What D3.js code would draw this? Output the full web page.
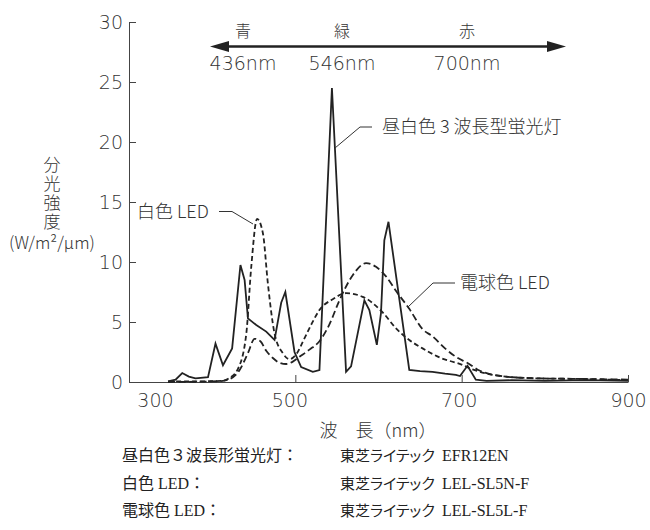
<!DOCTYPE html>
<html>
<head>
<meta charset="utf-8">
<script src="https://cdn.jsdelivr.net/npm/d3@7.9.0/dist/d3.min.js"></script>
<style>
  body { margin: 0; background: #fff; }
  svg { display: block; }
  .sans { font-family: "DejaVu Sans", "Noto Sans CJK JP", sans-serif; font-weight: 200; fill: #333; }
  .jp { font-family: "Noto Sans CJK JP", "DejaVu Sans", sans-serif; font-weight: 300; fill: #333; }
  .serif { font-family: "Liberation Serif", "Noto Sans CJK JP", serif; fill: #222; }
  .kana { font-feature-settings: "palt"; }
</style>
</head>
<body>
<svg id="chart" width="650" height="530"></svg>
<script>
// Spectra (wavelength in nm, intensity in W/m2/um)
const fluorWl  = [347, 356, 364, 372, 380, 395, 404, 413, 424, 434, 439, 443, 453, 465, 475, 483, 488, 499, 507, 521, 529, 544, 561, 567, 583, 589, 598, 603, 607, 612, 637, 650, 665, 680, 693, 698, 707, 717, 730, 760, 800, 850, 900];
const fluorVal = [0.05, 0.2, 0.75, 0.45, 0.3, 0.4, 3.2, 1.4, 2.8, 9.75, 8.5, 5.3, 4.75, 4.2, 3.5, 6.6, 7.5, 2.5, 1.25, 0.85, 1.0, 24.5, 0.85, 1.3, 6.8, 6.0, 3.1, 5.75, 11.8, 13.35, 1.0, 0.9, 0.85, 0.7, 0.6, 0.5, 1.35, 0.2, 0.1, 0.15, 0.1, 0.15, 0.1];

const whiteWl  = [347, 380, 413, 420, 431, 441, 447, 454, 461, 467, 475, 485, 493, 501, 510, 520, 529, 545, 561, 581, 605, 622, 637, 653, 675, 700, 713, 730, 753, 793, 850, 900];
const whiteVal = [0.05, 0.05, 0.1, 0.3, 1.1, 4.0, 9.6, 13.6, 12.4, 8.2, 4.05, 2.4, 1.9, 2.3, 3.5, 4.9, 6.0, 6.9, 7.4, 7.1, 5.8, 4.4, 3.5, 2.8, 2.0, 1.45, 1.05, 0.7, 0.45, 0.3, 0.25, 0.15];

const bulbWl  = [347, 400, 413, 425, 433, 443, 451, 458, 465, 473, 481, 489, 497, 505, 517, 529, 541, 553, 569, 585, 597, 609, 622, 637, 653, 665, 680, 693, 709, 720, 753, 793, 850, 900];
const bulbVal = [0.0, 0.05, 0.1, 0.4, 1.0, 2.4, 3.6, 3.4, 2.6, 2.0, 1.6, 1.5, 1.7, 2.1, 2.7, 3.4, 4.8, 6.8, 8.9, 9.9, 9.6, 8.8, 7.5, 6.1, 4.4, 3.8, 2.8, 2.1, 1.5, 1.0, 0.45, 0.3, 0.25, 0.2];

const xTicks = [300, 500, 700, 900];
const yTicks = [0, 5, 10, 15, 20, 25, 30];

// colour band arrow labels
const bandNames = ['青', '緑', '赤'];
const bandWl = [436, 546, 700];

const yTitle = '分光強度';
const yUnit = '(W/m²/μm)';

const footerNames = ['昼白色３波長形蛍光灯：', '白色 LED：', '電球色 LED：'];
const footerMaker = ['東芝ライテック', '東芝ライテック', '東芝ライテック'];
const footerModel = ['EFR12EN', 'LEL-SL5N-F', 'LEL-SL5L-F'];

const svg = d3.select('#chart');

const x = d3.scaleLinear().domain([300, 900]).range([129, 628]);
const y = d3.scaleLinear().domain([0, 30]).range([382, 22]);

// axes with inward ticks
const yAxis = svg.append('g')
  .attr('transform', `translate(${x(300)},0)`)
  .call(d3.axisLeft(y).tickValues(yTicks).tickSizeInner(-7).tickSizeOuter(0).tickPadding(6));

const xAxis = svg.append('g')
  .attr('transform', `translate(0,${y(0)})`)
  .call(d3.axisBottom(x).tickValues(xTicks).tickSizeInner(-7).tickSizeOuter(0).tickPadding(12));

[xAxis, yAxis].forEach(g => {
  g.selectAll('path, line').attr('stroke', '#444').attr('stroke-width', 1);
  g.selectAll('text')
    .attr('class', 'sans')
    .style('font-size', '19px')
    .attr('fill', '#333');
});
// nudge x labels like the original (first one clear of the y axis)
const xShift = { 300: 26, 500: -6, 700: -3, 900: 0 };
xAxis.selectAll('text').attr('dx', d => xShift[d]);

// spectrum lines
function series(wl, val) {
  return wl.map((w, i) => [w, val[i]]);
}
const lineSharp = d3.line().x(d => x(d[0])).y(d => y(d[1]));
const lineSmooth = d3.line().x(d => x(d[0])).y(d => y(d[1])).curve(d3.curveMonotoneX);

svg.append('path')
  .datum(series(bulbWl, bulbVal))
  .attr('d', lineSmooth)
  .attr('fill', 'none').attr('stroke', '#222').attr('stroke-width', 1.8)
  .attr('stroke-dasharray', '7,3.5');

svg.append('path')
  .datum(series(whiteWl, whiteVal))
  .attr('d', lineSmooth)
  .attr('fill', 'none').attr('stroke', '#222').attr('stroke-width', 1.8)
  .attr('stroke-dasharray', '5,3');

svg.append('path')
  .datum(series(fluorWl, fluorVal))
  .attr('d', lineSharp)
  .attr('fill', 'none').attr('stroke', '#222').attr('stroke-width', 1.8)
  .attr('stroke-linejoin', 'miter');

// y axis title, written vertically
svg.append('text')
  .attr('class', 'jp')
  .attr('x', 52).attr('y', 156)
  .style('writing-mode', 'vertical-rl')
  .style('letter-spacing', '2px')
  .style('font-size', '17px')
  .text(yTitle);
svg.append('text')
  .attr('class', 'jp')
  .attr('x', 52).attr('y', 249)
  .attr('text-anchor', 'middle')
  .style('font-size', '17px')
  .text(yUnit);

// x axis title
svg.append('text')
  .attr('class', 'jp')
  .attr('x', 378).attr('y', 437)
  .attr('text-anchor', 'middle')
  .style('font-size', '18px')
  .text('波　長（nm）');

// colour band arrow
const arrowY = 46.5;
svg.append('line')
  .attr('x1', 222).attr('x2', 553)
  .attr('y1', arrowY).attr('y2', arrowY)
  .attr('stroke', '#222').attr('stroke-width', 2.6);
svg.append('path')
  .attr('d', `M210,${arrowY} L229,${arrowY - 5.5} L229,${arrowY + 5.5} Z`)
  .attr('fill', '#222');
svg.append('path')
  .attr('d', `M566,${arrowY} L547,${arrowY - 5.5} L547,${arrowY + 5.5} Z`)
  .attr('fill', '#222');

const bandX = [243, 342, 467];
svg.append('g').selectAll('text')
  .data(bandNames)
  .join('text')
  .attr('class', 'jp')
  .attr('x', (d, i) => bandX[i])
  .attr('y', 37)
  .attr('text-anchor', 'middle')
  .style('font-size', '16px')
  .text(d => d);
svg.append('g').selectAll('text')
  .data(bandWl)
  .join('text')
  .attr('class', 'sans')
  .attr('x', (d, i) => bandX[i])
  .attr('y', 70)
  .attr('text-anchor', 'middle')
  .style('font-size', '19px')
  .text(d => d + 'nm');

// curve labels with leaders
const labels = [
  { text: '昼白色 3 波長型蛍光灯', tx: 382, ty: 133, path: 'M372,127 H360 L335,148' },
  { text: '白色 LED', tx: 137, ty: 218, path: 'M219,211.5 H232 L253,224' },
  { text: '電球色 LED', tx: 460, ty: 289, path: 'M455,283 H433 L408,307' }
];
labels.forEach(l => {
  svg.append('path').attr('d', l.path)
    .attr('fill', 'none').attr('stroke', '#333').attr('stroke-width', 1);
  svg.append('text')
    .attr('class', 'jp')
    .attr('x', l.tx).attr('y', l.ty)
    .style('font-size', '18px')
    .text(l.text);
});

// footer notes
const foot = svg.append('g');
footerNames.forEach((name, i) => {
  const by = 461 + i * 27.5;
  foot.append('text').attr('class', 'serif').attr('x', 122).attr('y', by)
    .style('font-size', '16px').text(name);
  foot.append('text').attr('class', 'serif kana').attr('x', 340).attr('y', by)
    .style('font-size', '15px').text(footerMaker[i]);
  foot.append('text').attr('class', 'serif').attr('x', 442).attr('y', by)
    .style('font-size', '16px').text(footerModel[i]);
});
</script>
</body>
</html>
